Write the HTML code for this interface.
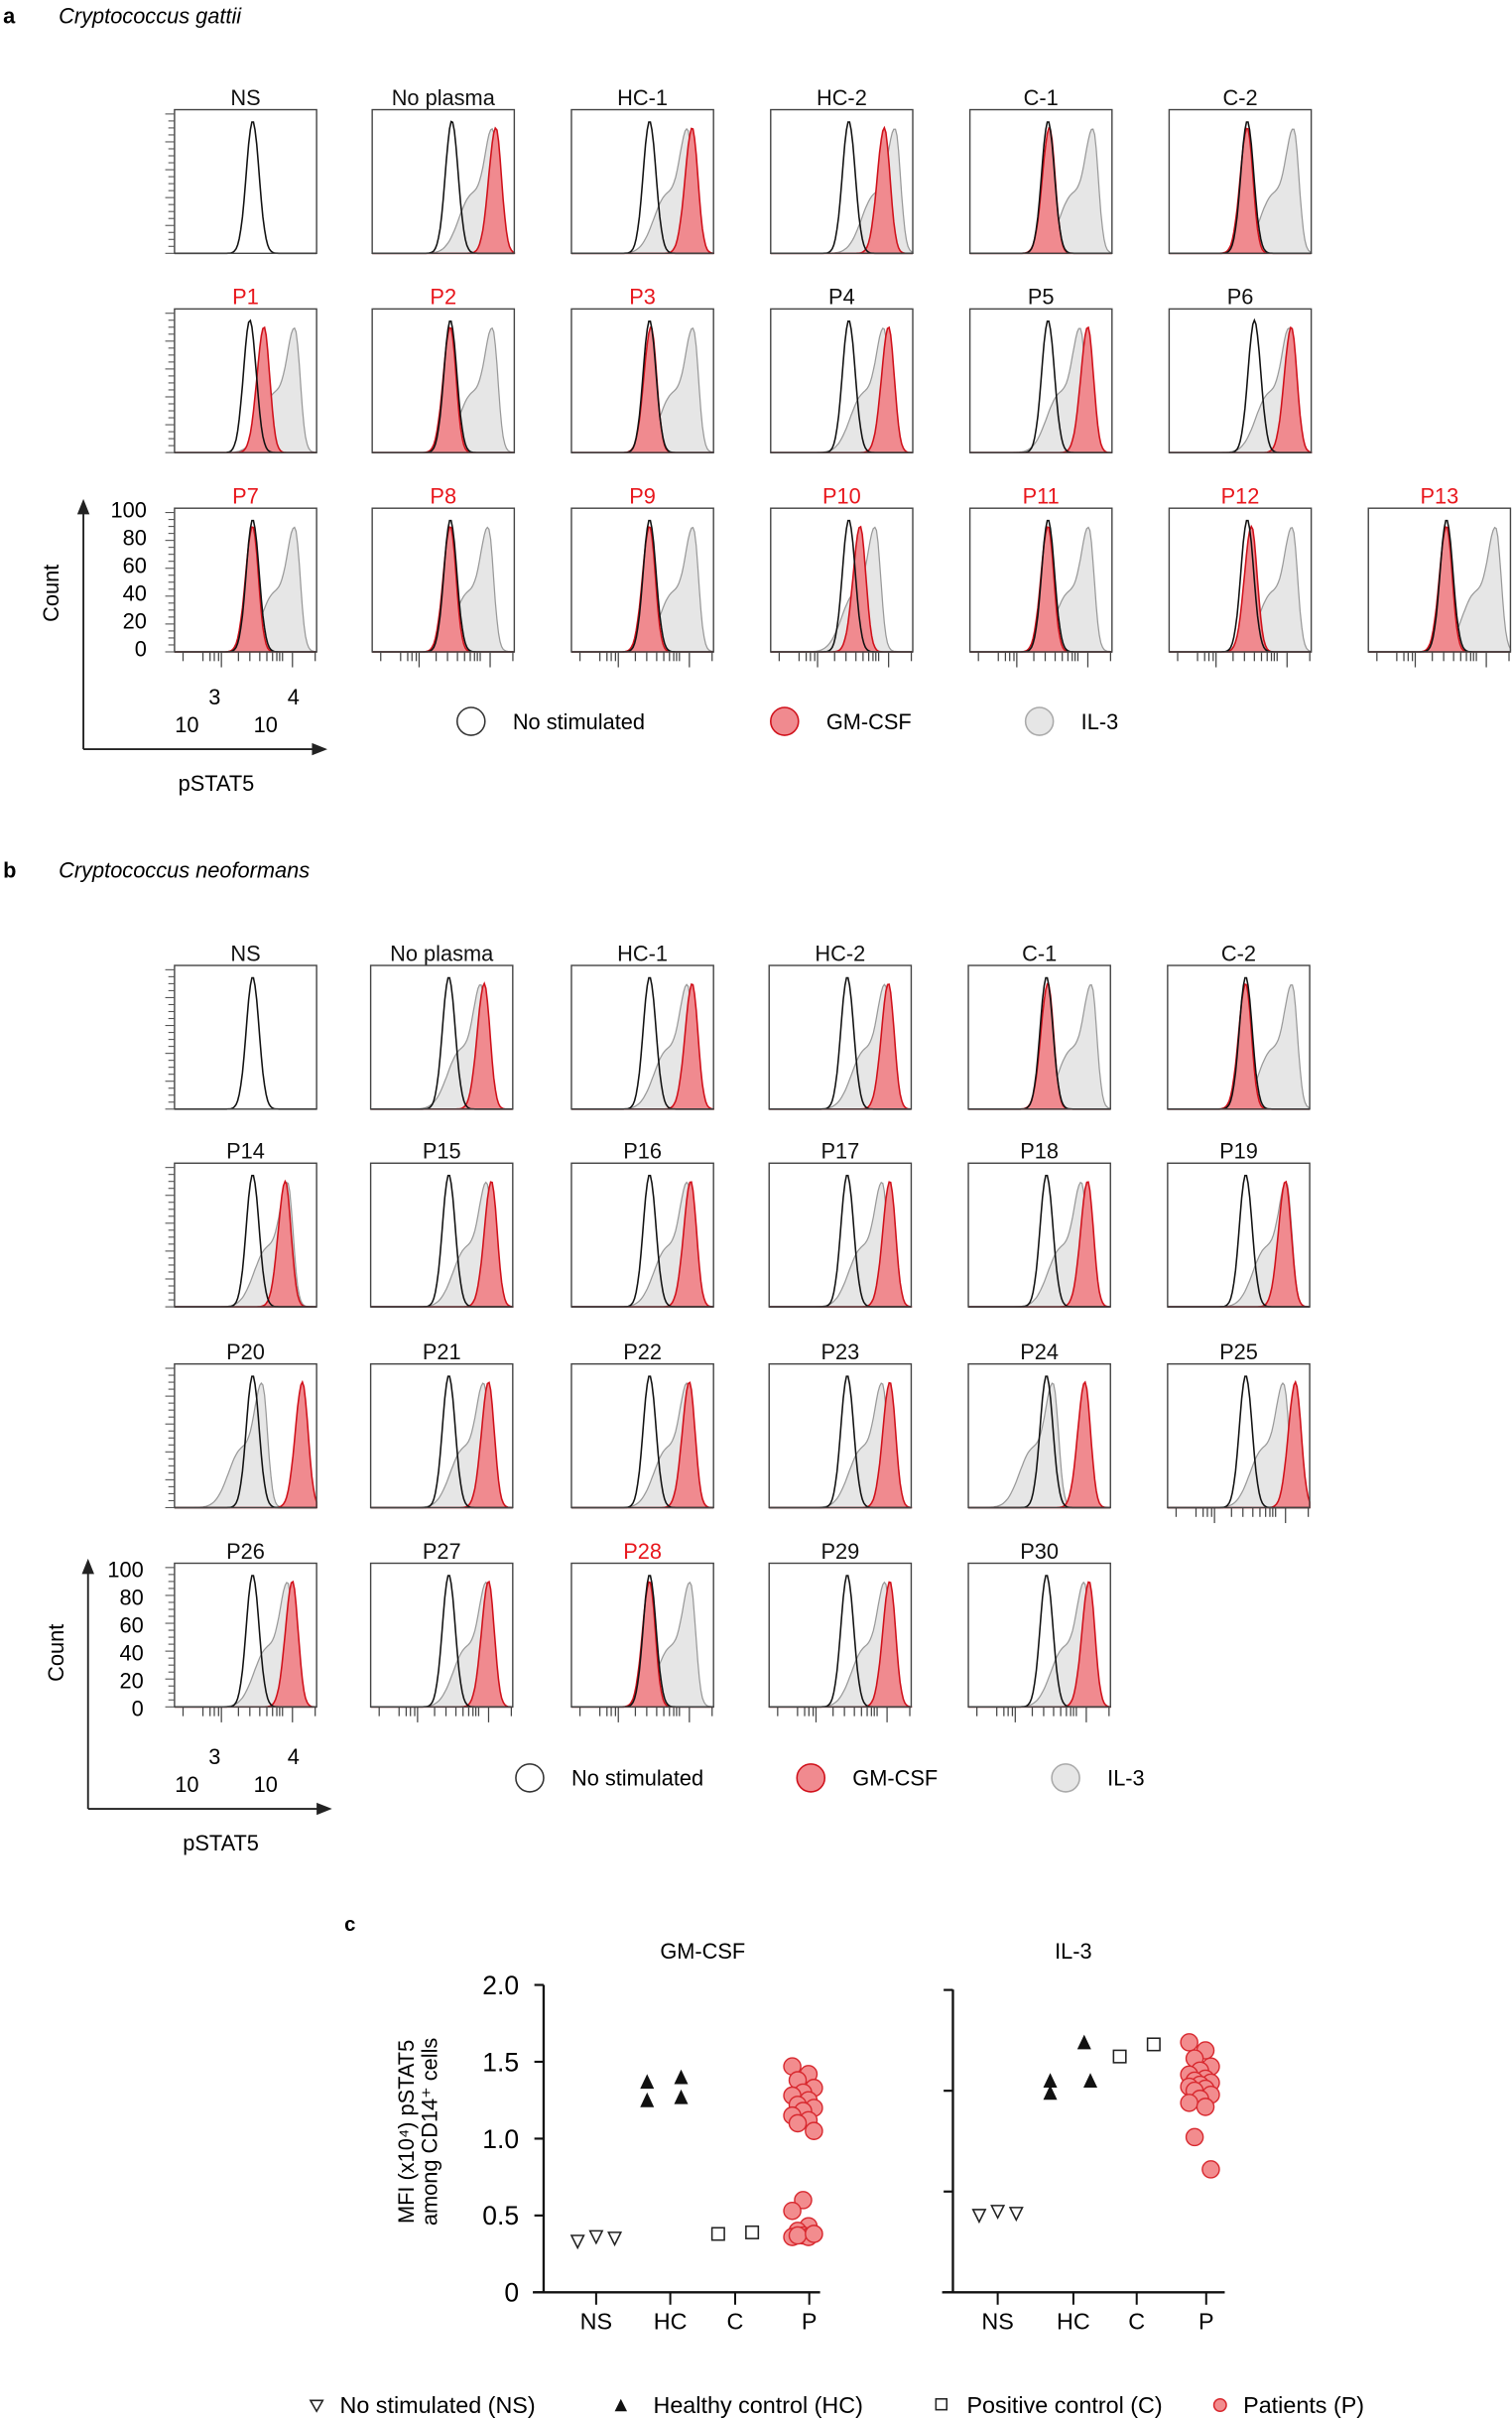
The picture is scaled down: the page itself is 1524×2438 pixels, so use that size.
<!DOCTYPE html>
<html><head><meta charset="utf-8"><style>
html,body{margin:0;padding:0;background:#fff}
svg{display:block}
text{font-family:"Liberation Sans",Arial,sans-serif}
</style></head><body>
<svg id="fig" width="1524" height="2438" viewBox="0 0 979 1566" preserveAspectRatio="none" xmlns="http://www.w3.org/2000/svg">
<g id="static" font-size="14">
<text x="2" y="15" font-weight="bold" font-size="14">a</text>
<text x="38" y="15" font-style="italic" font-size="14">Cryptococcus gattii</text>
<text x="2" y="568" font-weight="bold" font-size="14">b</text>
<text x="38" y="568" font-style="italic" font-size="14">Cryptococcus neoformans</text>
<text x="223" y="1250" font-weight="bold" font-size="13">c</text>
</g>
<g id="dyn"></g>
</svg>
<script>
// ---- Histogram panel data (peak positions as fraction of log axis) ----
const aNames = ["NS","No plasma","HC-1","HC-2","C-1","C-2","P1","P2","P3","P4","P5","P6","P7","P8","P9","P10","P11","P12","P13"];
const aTitleRed = [0,0,0,0,0,0,1,1,1,0,0,0,1,1,1,1,1,1,1];
const aNsPeak = [0.55,0.56,0.55,0.55,0.55,0.55,0.53,0.55,0.55,0.55,0.55,0.6,0.55,0.55,0.55,0.55,0.55,0.55,0.55];
const aGmPeak = [null,0.87,0.85,0.8,0.56,0.55,0.63,0.55,0.56,0.83,0.83,0.86,0.55,0.55,0.55,0.63,0.55,0.58,0.55];
const aIl3Peak= [null,0.85,0.82,0.88,0.87,0.88,0.85,0.85,0.86,0.8,0.78,0.85,0.85,0.82,0.86,0.74,0.84,0.87,0.9];
const bNames = ["NS","No  plasma","HC-1","HC-2","C-1","C-2","P14","P15","P16","P17","P18","P19","P20","P21","P22","P23","P24","P25","P26","P27","P28","P29","P30"];
const bTitleRed = [0,0,0,0,0,0,0,0,0,0,0,0,0,0,0,0,0,0,0,0,1,0,0];
const bNsPeak = [0.55,0.55,0.55,0.55,0.55,0.55,0.55,0.55,0.55,0.55,0.55,0.55,0.55,0.55,0.55,0.55,0.55,0.55,0.55,0.55,0.55,0.55,0.55];
const bGmPeak = [null,0.8,0.85,0.84,0.56,0.55,0.78,0.85,0.84,0.85,0.84,0.83,0.9,0.83,0.83,0.85,0.82,0.9,0.83,0.83,0.55,0.85,0.85];
const bIl3Peak= [null,0.78,0.82,0.82,0.87,0.88,0.8,0.82,0.82,0.8,0.8,0.84,0.62,0.8,0.82,0.8,0.6,0.82,0.8,0.82,0.84,0.82,0.82];

// ---- Scatter data (panel c) ----
const groups = ["NS","HC","C","P"];
const gmNS = [0.33,0.36,0.35];
const gmHC = [1.37,1.25,1.40,1.27];
const gmC  = [0.38,0.39];
const gmP  = [1.47,1.42,1.38,1.33,1.30,1.28,1.25,1.22,1.20,1.18,1.15,1.12,1.10,1.05,0.60,0.53,0.43,0.40,0.38,0.37,0.36,0.36,0.37,0.38];
const ilNS = [0.38,0.40,0.39];
const ilHC = [1.05,0.99,1.24,1.05];
const ilC  = [1.17,1.23];
const ilP  = [1.24,1.20,1.16,1.12,1.10,1.08,1.06,1.05,1.04,1.03,1.02,1.01,1.00,0.98,0.96,0.94,0.92,0.77,0.61];
const gmTicks = ["0","0.5","1.0","1.5","2.0"];
const ilTicks = [0,0.5,1.0,1.5];

const NS = "http://www.w3.org/2000/svg";
const root = document.getElementById('dyn');
function mk(tag, attrs, parent){ const e=document.createElementNS(NS,tag); for(const k in attrs) e.setAttribute(k,attrs[k]); (parent||root).appendChild(e); return e; }
function txt(x,y,s,attrs,parent){ const e=mk('text',Object.assign({x:x,y:y},attrs||{}),parent); e.textContent=s; return e; }

function g(x,m,w){ return Math.exp(-0.5*((x-m)/w)*((x-m)/w)); }
function shape(kind,p,x){
  if(kind==='ns') return 0.97*g(x,p,0.045);
  if(kind==='gm') return 0.92*(x<p? g(x,p,0.05):g(x,p,0.04));
  const main=0.8*(x<p?g(x,p,0.055):g(x,p,0.035));
  const sh=0.42*g(x,p-0.15,0.09);
  return Math.min(0.95,main+sh);
}
function histPath(kind,p,bx,by,w,h,closed){
  let d=''; const N=90;
  for(let i=0;i<=N;i++){ const f=i/N; const v=shape(kind,p,f); const X=bx+f*w, Y=by+h-v*h*0.95; d+=(i?'L':'M')+X.toFixed(1)+' '+Y.toFixed(1); }
  if(closed) d+='L'+(bx+w)+' '+(by+h)+'L'+bx+' '+(by+h)+'Z';
  return d;
}
function panel(name,titleRed,ns,gm,il,bx,by,leftTicks,bottomTicks){
  const w=92,h=93;
  const grp=mk('g',{});
  
  
  const t=txt(bx+w/2,by-3,name,{'text-anchor':'middle','font-size':14,fill:titleRed?'#e8161c':'#111'},grp);
  
  
  if(il!=null){ const e=mk('path',{d:histPath('il',il,bx,by,w,h,true),fill:'#e6e6e6',stroke:'#999','stroke-width':0.8},grp);
      }
  if(gm!=null){ const e=mk('path',{d:histPath('gm',gm,bx,by,w,h,true),fill:'#f08a8f',stroke:'#d0101a','stroke-width':1},grp);
      }
  const e=mk('path',{d:histPath('ns',ns,bx,by,w,h,false),fill:'none',stroke:'#111','stroke-width':1},grp);
   
  mk('rect',{x:bx,y:by,width:w,height:h,fill:'none',stroke:'#444','stroke-width':0.9},grp);
  if(leftTicks){ for(let i=0;i<=20;i++){ const y=by+h-i*h*0.97/20; mk('line',{x1:bx-(i%4==0?6:4),x2:bx,y1:y,y2:y,stroke:'#555','stroke-width':0.7},grp);} }
  if(bottomTicks){ const tk=[0.06,0.2,0.25,0.28,0.31,0.33,0.45,0.53,0.6,0.65,0.69,0.72,0.74,0.76,0.83,0.99];
    tk.forEach((f,i)=>{ const long=(f==0.33||f==0.83); mk('line',{x1:bx+f*w,x2:bx+f*w,y1:by+h,y2:by+h+(long?10:6),stroke:'#444','stroke-width':0.8},grp);}); }
}

const aCols=[113,241,370,499,628,757,886], aRows=[71,200,329];
aNames.forEach((n,i)=>{ const r=Math.min(2,Math.floor(i/6)); const c=i<12?i%6:i-12;
  panel(n,aTitleRed[i],aNsPeak[i],aGmPeak[i],aIl3Peak[i],aCols[c],aRows[r],c==0,r==2); });
const bCols=[113,240,370,498,627,756], bRows=[625,753,883,1012];
bNames.forEach((n,i)=>{ const r=Math.floor(i/6), c=i%6;
  panel(n,bTitleRed[i],bNsPeak[i],bGmPeak[i],bIl3Peak[i],bCols[c],bRows[r],c==0,r==3||i==17); });

function axisDeco(topY,ax,prefix,lx,legendY,lcx){
  const grp=mk('g',{});
   
  const labs=["100","80","60","40","20","0"];
  labs.forEach((s,i)=>txt(lx,topY+6+i*18,s,{'text-anchor':'end','font-size':14},grp));
  const c=txt(0,0,'Count',{'font-size':14,transform:'translate('+(ax-16)+','+(topY+55)+') rotate(-90)','text-anchor':'middle'},grp);
   
  mk('line',{x1:ax,y1:topY-4,x2:ax,y2:topY+156,stroke:'#222','stroke-width':1.2},grp);
  mk('path',{d:'M'+(ax-4)+' '+(topY+4)+'L'+ax+' '+(topY-6)+'L'+(ax+4)+' '+(topY+4)+'Z',fill:'#222'},grp);
  mk('line',{x1:ax,y1:topY+156,x2:ax+154,y2:topY+156,stroke:'#222','stroke-width':1.2},grp);
  mk('path',{d:'M'+(ax+148)+' '+(topY+152)+'L'+(ax+158)+' '+(topY+156)+'L'+(ax+148)+' '+(topY+160)+'Z',fill:'#222'},grp);
  txt(139,topY+127,'3',{'font-size':14,'text-anchor':'middle'},grp);
  txt(121,topY+145,'10',{'font-size':14,'text-anchor':'middle'},grp);
  txt(190,topY+127,'4',{'font-size':14,'text-anchor':'middle'},grp);
  txt(172,topY+145,'10',{'font-size':14,'text-anchor':'middle'},grp);
  const p=txt(ax+86,topY+183,'pSTAT5',{'font-size':14,'text-anchor':'middle'},grp);
   
  const items=[['No stimulated','#fff','#333'],['GM-CSF','#f08a8f','#d0101a'],['IL-3','#e6e6e6','#aaa']];
  items.forEach((it,i)=>{ const le=mk('g',{},grp);
     
    mk('circle',{cx:lcx[i],cy:legendY,r:9,fill:it[1],stroke:it[2],'stroke-width':1},le);
    txt(lcx[i]+27,legendY+5,it[0],{'font-size':14},le); });
}
axisDeco(329,54,'a',95,467,[305,508,673]);
axisDeco(1015,57,'b',93,1151,[343,525,690]);

function scatter(prefix,ax,x0,x1,yTop,yScale,ticks,tickLabels,xPos,NSv,HCv,Cv,Pv,title,titleX){
  const base=1484;
  const Y=v=>base-v*yScale;
  const grp=mk('g',{});
   
  const t=txt(titleX,1268,title,{'font-size':14,'text-anchor':'middle'},grp);
   
  mk('line',{x1:ax,y1:yTop,x2:ax,y2:base,stroke:'#111','stroke-width':1.5},grp);
  mk('line',{x1:x0,y1:base,x2:x1,y2:base,stroke:'#111','stroke-width':1.5},grp);
  ticks.forEach((v,i)=>{ mk('line',{x1:ax-6,x2:ax,y1:Y(v),y2:Y(v),stroke:'#111','stroke-width':1.4},grp);
    if(tickLabels) txt(ax-16,Y(v)+6,tickLabels[i],{'font-size':17,'text-anchor':'end'},grp); });
  groups.forEach((gname,i)=>{ mk('line',{x1:xPos[i],x2:xPos[i],y1:base,y2:base+8,stroke:'#111','stroke-width':1.3},grp);
    txt(xPos[i],1508,gname,{'font-size':15,'text-anchor':'middle'},grp); });
  NSv.forEach((v,i)=>{ const x=xPos[0]+(i-1)*12, y=Y(v);
    const e=mk('path',{d:`M${x-4} ${y-4}L${x+4} ${y-4}L${x} ${y+4}Z`,fill:'#fff',stroke:'#222','stroke-width':1},grp);
      });
  HCv.forEach((v,i)=>{ const x=xPos[1]+(i<2?-15:7)+(i==3&&prefix=='il3'?4:0), y=Y(v);
    const e=mk('path',{d:`M${x-4.5} ${y+4.5}L${x+4.5} ${y+4.5}L${x} ${y-5}Z`,fill:'#111'},grp);
      });
  Cv.forEach((v,i)=>{ const x=xPos[2]-11+i*22, y=Y(v);
    const e=mk('rect',{x:x-4,y:y-4,width:8,height:8,fill:'#fff',stroke:'#222','stroke-width':1},grp);
      });
  Pv.forEach((v,i)=>{ const x=xPos[3]-4+((i*3)%5-2)*3.5, y=Y(v);
    const e=mk('circle',{cx:x,cy:y,r:5.5,fill:'#f28c8e',stroke:'#d8282e','stroke-width':0.9},grp);
      });
}
scatter('gmcsf',352,345,531,1285,99.5,[0,0.5,1.0,1.5,2.0],gmTicks,[386,434,476,524],gmNS,gmHC,gmC,gmP,'GM-CSF',455);
scatter('il3',617,610,793,1288,130.5,ilTicks,null,[646,695,736,781],ilNS,ilHC,ilC,ilP,'IL-3',695);

const yt=txt(0,0,'MFI (x10\u2074) pSTAT5',{'font-size':14,'text-anchor':'middle',transform:'translate(268,1380) rotate(-90)'});
 
const yt2=txt(0,0,'among CD14\u207A cells',{'font-size':14,'text-anchor':'middle',transform:'translate(283,1380) rotate(-90)'});
 

const lg=mk('g',{});
 
mk('path',{d:'M201 1554L209 1554L205 1561Z',fill:'#fff',stroke:'#222','stroke-width':1},lg);
txt(220,1562,'No stimulated (NS)',{'font-size':15},lg);
mk('path',{d:'M398 1561L406 1561L402 1553Z',fill:'#111'},lg);
txt(423,1562,'Healthy control (HC)',{'font-size':15},lg);
mk('rect',{x:606,y:1553,width:7,height:7,fill:'#fff',stroke:'#222'},lg);
txt(626,1562,'Positive control (C)',{'font-size':15},lg);
mk('circle',{cx:790,cy:1557,r:4,fill:'#f28c8e',stroke:'#d8282e'},lg);
txt(805,1562,'Patients (P)',{'font-size':15},lg);
</script>
</body></html>
